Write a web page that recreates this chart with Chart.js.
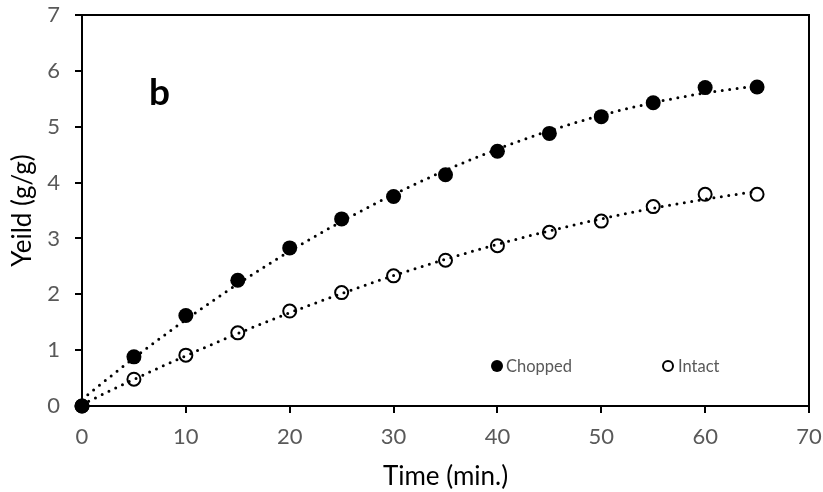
<!DOCTYPE html>
<html>
<head>
<meta charset="utf-8">
<script src="https://cdn.jsdelivr.net/npm/chart.js@4.4.1/dist/chart.umd.min.js"></script>
<style>
  html, body { margin: 0; padding: 0; background: #fff; }
  #wrap { width: 823px; height: 492px; position: relative; }
</style>
</head>
<body>
<div id="wrap"><canvas id="chart"></canvas></div>
<script>
// data
const times = [0, 5, 10, 15, 20, 25, 30, 35, 40, 45, 50, 55, 60, 65];
const chopped = [0, 0.88, 1.62, 2.25, 2.83, 3.35, 3.75, 4.14, 4.56, 4.88, 5.18, 5.43, 5.70, 5.71];
const intact = [0, 0.48, 0.91, 1.31, 1.70, 2.03, 2.33, 2.61, 2.87, 3.11, 3.31, 3.57, 3.79, 3.79];
const xTicks = [0, 10, 20, 30, 40, 50, 60, 70];
const yTicks = [0, 1, 2, 3, 4, 5, 6, 7];

const FONT = 'Lato, "Open Sans", sans-serif';
const GREY = '#595959';

// least squares quadratic, like an excel poly trendline
function polyFit(xs, ys) {
  let s = [0, 0, 0, 0, 0], t = [0, 0, 0];
  for (let i = 0; i < xs.length; i++) {
    let p = 1;
    for (let k = 0; k < 5; k++) { s[k] += p; if (k < 3) t[k] += p * ys[i]; p *= xs[i]; }
  }
  const m = [[s[0], s[1], s[2], t[0]], [s[1], s[2], s[3], t[1]], [s[2], s[3], s[4], t[2]]];
  for (let c = 0; c < 3; c++) {
    for (let r = c + 1; r < 3; r++) {
      const f = m[r][c] / m[c][c];
      for (let k = c; k < 4; k++) m[r][k] -= f * m[c][k];
    }
  }
  const a = [0, 0, 0];
  for (let r = 2; r >= 0; r--) {
    let v = m[r][3];
    for (let k = r + 1; k < 3; k++) v -= m[r][k] * a[k];
    a[r] = v / m[r][r];
  }
  return a;
}

function trend(ys) {
  const a = polyFit(times, ys);
  const pts = [];
  for (let i = 0; i <= 65; i++) pts.push({ x: i, y: a[0] + a[1] * i + a[2] * i * i });
  return pts;
}

const toPts = ys => times.map((t, i) => ({ x: t, y: ys[i] }));

const dotted = {
  type: 'line', showLine: true, pointRadius: 0, borderColor: '#000', borderWidth: 3,
  borderDash: [0, 7.5], borderCapStyle: 'round', fill: false, tension: 0
};

const boxAndLabels = {
  id: 'boxAndLabels',
  beforeDatasetsDraw(chart) {
    const { ctx, chartArea: a } = chart;
    ctx.save();
    ctx.strokeStyle = '#000';
    ctx.lineWidth = 2;
    ctx.strokeRect(a.left, a.top, a.right - a.left, a.bottom - a.top);
    ctx.restore();
  },
  afterDraw(chart) {
    const { ctx } = chart;
    ctx.save();
    ctx.fillStyle = '#000';
    ctx.font = 'bold 37px ' + FONT;
    ctx.textBaseline = 'alphabetic';
    ctx.fillText('b', 149, 105);

    // legend inside the plot
    ctx.textBaseline = 'middle';
    ctx.font = '16.5px ' + FONT;
    ctx.beginPath();
    ctx.arc(497, 366, 6, 0, Math.PI * 2);
    ctx.fill();
    ctx.fillStyle = GREY;
    ctx.fillText('Chopped', 506, 367);
    ctx.beginPath();
    ctx.arc(668, 366, 5, 0, Math.PI * 2);
    ctx.lineWidth = 2;
    ctx.stroke();
    ctx.fillText('Intact', 678, 367);
    ctx.restore();
  }
};

// chart.js draws the lowest order last: trends on top, then filled, then open circles
new Chart(document.getElementById('chart'), {
  type: 'scatter',
  data: {
    datasets: [
      Object.assign({ data: trend(chopped), order: 0 }, dotted),
      Object.assign({ data: trend(intact), order: 0 }, dotted),
      {
        label: 'Chopped', data: toPts(chopped), order: 1, clip: false,
        pointRadius: 7.5, pointBackgroundColor: '#000', pointBorderColor: '#000', pointBorderWidth: 0
      },
      {
        label: 'Intact', data: toPts(intact), order: 2, clip: false,
        pointRadius: 6.5, pointBackgroundColor: '#fff', pointBorderColor: '#000', pointBorderWidth: 2
      }
    ]
  },
  options: {
    responsive: true,
    maintainAspectRatio: false,
    animation: false,
    layout: { padding: { top: 15, right: 14, left: 0, bottom: 0 } },
    plugins: { legend: { display: false }, tooltip: { enabled: false } },
    scales: {
      x: {
        type: 'linear', min: 0, max: 70,
        afterBuildTicks: s => { s.ticks = xTicks.map(v => ({ value: v })); },
        afterFit: s => { s.height = 86; s.paddingLeft = 0; s.paddingRight = 0; },
        grid: { drawOnChartArea: false, drawTicks: true, tickLength: 7, color: '#000', lineWidth: 2 },
        border: { color: '#000', width: 2 },
        ticks: { color: GREY, font: { family: FONT, size: 22 }, padding: 11, maxRotation: 0 },
        title: { display: true, text: 'Time (min.)', color: '#000', font: { family: FONT, size: 26 }, padding: { top: 1, bottom: 0 } }
      },
      y: {
        min: 0, max: 7,
        afterBuildTicks: s => { s.ticks = yTicks.map(v => ({ value: v })); },
        afterFit: s => { s.width = 82; s.paddingTop = 0; s.paddingBottom = 0; },
        grid: { drawOnChartArea: false, drawTicks: true, tickLength: 7, color: '#000', lineWidth: 2 },
        border: { color: '#000', width: 2 },
        ticks: { color: GREY, font: { family: FONT, size: 22 }, padding: 15 },
        title: { display: true, text: 'Yeild (g/g)', color: '#000', font: { family: FONT, size: 26 }, padding: { top: 7, bottom: 0 } }
      }
    }
  },
  plugins: [boxAndLabels]
});
</script>
</body>
</html>
